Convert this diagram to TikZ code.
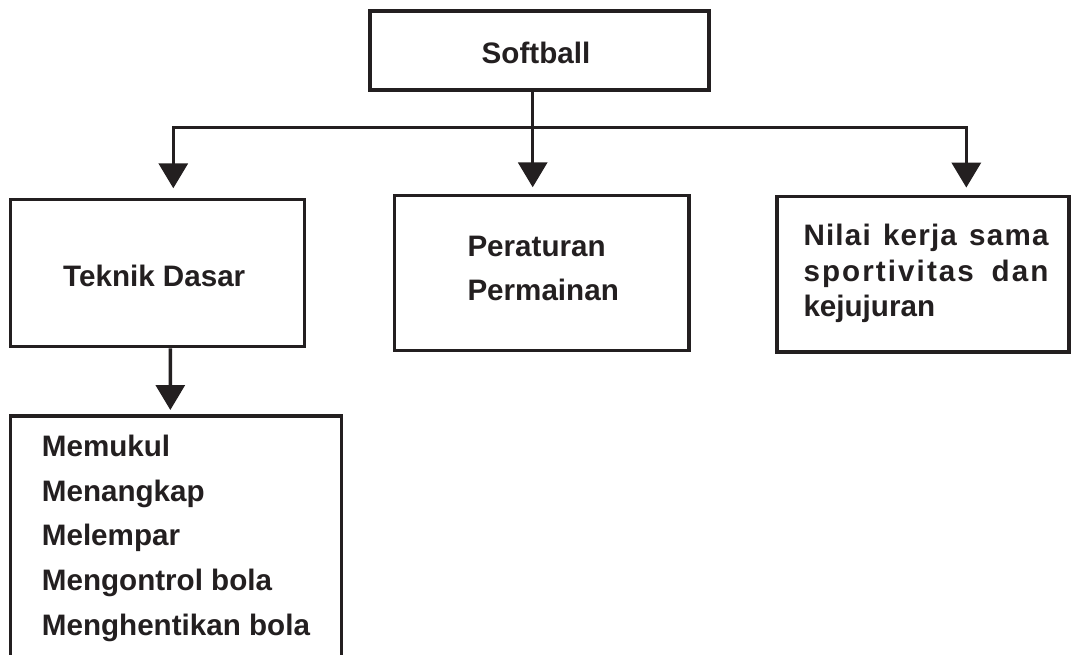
\documentclass[tikz,border=0pt]{standalone}
\usepackage{fontspec}
\setmainfont{Liberation Sans}
\usetikzlibrary{arrows.meta,calc}
\definecolor{ink}{HTML}{231F20}
\begin{document}
\begin{tikzpicture}[x=1pt,y=-1pt,
  box/.style={draw=ink,line width=3.4pt,inner sep=0pt},
  txt/.style={text=ink,inner sep=0pt,anchor=base west,font=\fontsize{29.6}{35}\selectfont\bfseries},
  conn/.style={draw=ink,line width=3.4pt},
  arrow/.style={conn,-{Triangle[width=29pt,length=25pt]}}]
\clip (0,0) rectangle (1073,655);
\fill[white] (0,0) rectangle (1073,655);
% boxes
\node[box,minimum width=339pt,minimum height=79pt] (soft) at (539.5,50.5) {};
\node[box,minimum width=294.2pt,minimum height=147.2pt] (tek) at (157.6,273.1) {};
\node[box,minimum width=294.1pt,minimum height=155pt] (mid) at (541.75,272.8) {};
\node[box,minimum width=292pt,minimum height=155.7pt] (nil) at (923,274.15) {};
\node[box,minimum width=330.8pt,minimum height=300pt] (list) at (175.9,566) {};
% texts
\node[txt,anchor=base] (tsoft) at (536,64) {Softball};
\node[txt] (ttek) at (63,286) {Teknik Dasar};
\node[txt] (tmid1) at (467.3,256.7) {Peraturan};
\node[txt] (tmid2) at (467.3,300) {Permainan};
\node[txt] (tnil1) at (803.3,245) {\makebox[245pt][s]{\addfontfeature{LetterSpace=4}Nilai kerja sama}};
\node[txt] (tnil2) at (803.3,281) {\makebox[245pt][s]{\addfontfeature{LetterSpace=7}sportivitas dan}};
\node[txt] (tnil3) at (803.3,316) {kejujuran};
\node[txt] (tl1) at (41.7,456) {Memukul};
\node[txt] (tl2) at (41.7,501) {Menangkap};
\node[txt] (tl3) at (41.7,545) {Melempar};
\node[txt] (tl4) at (41.7,590) {Mengontrol bola};
\node[txt] (tl5) at (41.7,635) {Menghentikan bola};
% connectors
\coordinate (busM) at ($(soft.south)+(-6.8,35.7)$);
\draw[arrow,shorten >=6.3pt] ([xshift=-6.8pt]soft.south) -- ([xshift=-9.05pt]mid.north);
\draw[arrow,shorten >=9.5pt] (busM) -| ([xshift=15.7pt]tek.north);
\draw[arrow,shorten >=7pt] (busM) -| ([xshift=43.3pt]nil.north);
\draw[arrow,shorten >=4.3pt] ([xshift=12.7pt]tek.south) -- ([xshift=-5.6pt]list.north);
\end{tikzpicture}
\end{document}
